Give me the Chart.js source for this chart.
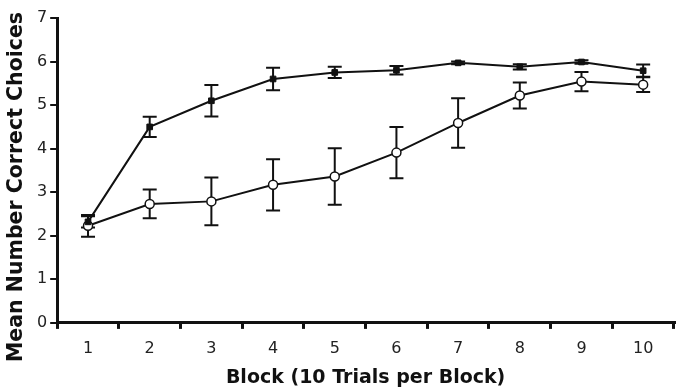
<!DOCTYPE html>
<html>
<head>
<meta charset="utf-8">
<script src="https://cdn.jsdelivr.net/npm/chart.js@4"></script>
<style>
  html, body { margin: 0; padding: 0; background: #fff; }
  #wrap { width: 680px; height: 389px; }
</style>
</head>
<body>
<div id="wrap"><canvas id="chart"></canvas></div>
<script>
const blocks = ["1", "2", "3", "4", "5", "6", "7", "8", "9", "10"];

const filledMean = [2.32, 4.50, 5.10, 5.60, 5.75, 5.80, 5.97, 5.88, 5.99, 5.79];
const filledErr  = [0.13, 0.23, 0.36, 0.26, 0.13, 0.10, 0.03, 0.06, 0.04, 0.14];

const openMean = [2.23, 2.73, 2.79, 3.17, 3.36, 3.91, 4.59, 5.22, 5.54, 5.47];
const openErr  = [0.25, 0.33, 0.55, 0.59, 0.65, 0.59, 0.57, 0.30, 0.22, 0.17];

const yTitle = "Mean Number Correct Choices";

// error bars drawn behind the lines and markers
const errorBars = {
  id: "errorBars",
  beforeDatasetsDraw(chart) {
    const ctx = chart.ctx;
    const x = chart.scales.x;
    const y = chart.scales.y;
    ctx.save();
    ctx.strokeStyle = "#111";
    ctx.lineWidth = 2;
    chart.data.datasets.forEach((ds) => {
      ds.data.forEach((v, i) => {
        const px = x.getPixelForValue(i);
        const top = y.getPixelForValue(v + ds.err[i]);
        const bot = y.getPixelForValue(v - ds.err[i]);
        ctx.beginPath();
        ctx.moveTo(px, top);
        ctx.lineTo(px, bot);
        ctx.moveTo(px - 7, top);
        ctx.lineTo(px + 7, top);
        ctx.moveTo(px - 7, bot);
        ctx.lineTo(px + 7, bot);
        ctx.stroke();
      });
    });
    ctx.restore();
  },
};

// y title sits a bit lower than the axis centre in the original
const yTitlePlugin = {
  id: "yTitle",
  afterDraw(chart) {
    const ctx = chart.ctx;
    ctx.save();
    ctx.translate(17, 187);
    ctx.rotate(-Math.PI / 2);
    ctx.fillStyle = "#111";
    ctx.font = "bold 20.5px 'DejaVu Sans'";
    ctx.textAlign = "center";
    ctx.textBaseline = "middle";
    ctx.fillText(yTitle, 0, 0);
    ctx.restore();
  },
};

new Chart(document.getElementById("chart"), {
  type: "line",
  data: {
    labels: blocks,
    datasets: [
      {
        data: filledMean,
        err: filledErr,
        borderColor: "#111",
        borderWidth: 2,
        pointStyle: "rect",
        pointRadius: 4,
        pointBackgroundColor: "#111",
        pointBorderColor: "#111",
        pointBorderWidth: 1,
      },
      {
        data: openMean,
        err: openErr,
        borderColor: "#111",
        borderWidth: 2,
        pointStyle: "circle",
        pointRadius: 4.5,
        pointBackgroundColor: "#fff",
        pointBorderColor: "#111",
        pointBorderWidth: 1.5,
      },
    ],
  },
  options: {
    responsive: true,
    maintainAspectRatio: false,
    animation: false,
    layout: { padding: { top: 18, right: 1, left: 34, bottom: 0 } },
    plugins: {
      legend: { display: false },
      tooltip: { enabled: false },
    },
    scales: {
      x: {
        offset: true,
        grid: {
          offset: true,
          drawOnChartArea: false,
          tickLength: 6,
          lineWidth: 3,
          color: "#111",
        },
        border: { width: 3, color: "#111" },
        ticks: {
          color: "#222",
          padding: 10,
          font: { family: "DejaVu Sans", size: 16 },
        },
        title: {
          display: true,
          text: "Block (10 Trials per Block)",
          color: "#111",
          padding: { top: 0, bottom: 0 },
          font: { family: "DejaVu Sans", weight: "bold", size: 19, lineHeight: 1.1 },
        },
      },
      y: {
        min: 0,
        max: 7,
        grid: {
          drawOnChartArea: false,
          tickLength: 7,
          lineWidth: 2,
          color: "#111",
        },
        border: { width: 3, color: "#111" },
        ticks: {
          stepSize: 1,
          color: "#222",
          padding: 3,
          font: { family: "DejaVu Sans", size: 16 },
        },
      },
    },
  },
  plugins: [errorBars, yTitlePlugin],
});
</script>
</body>
</html>
